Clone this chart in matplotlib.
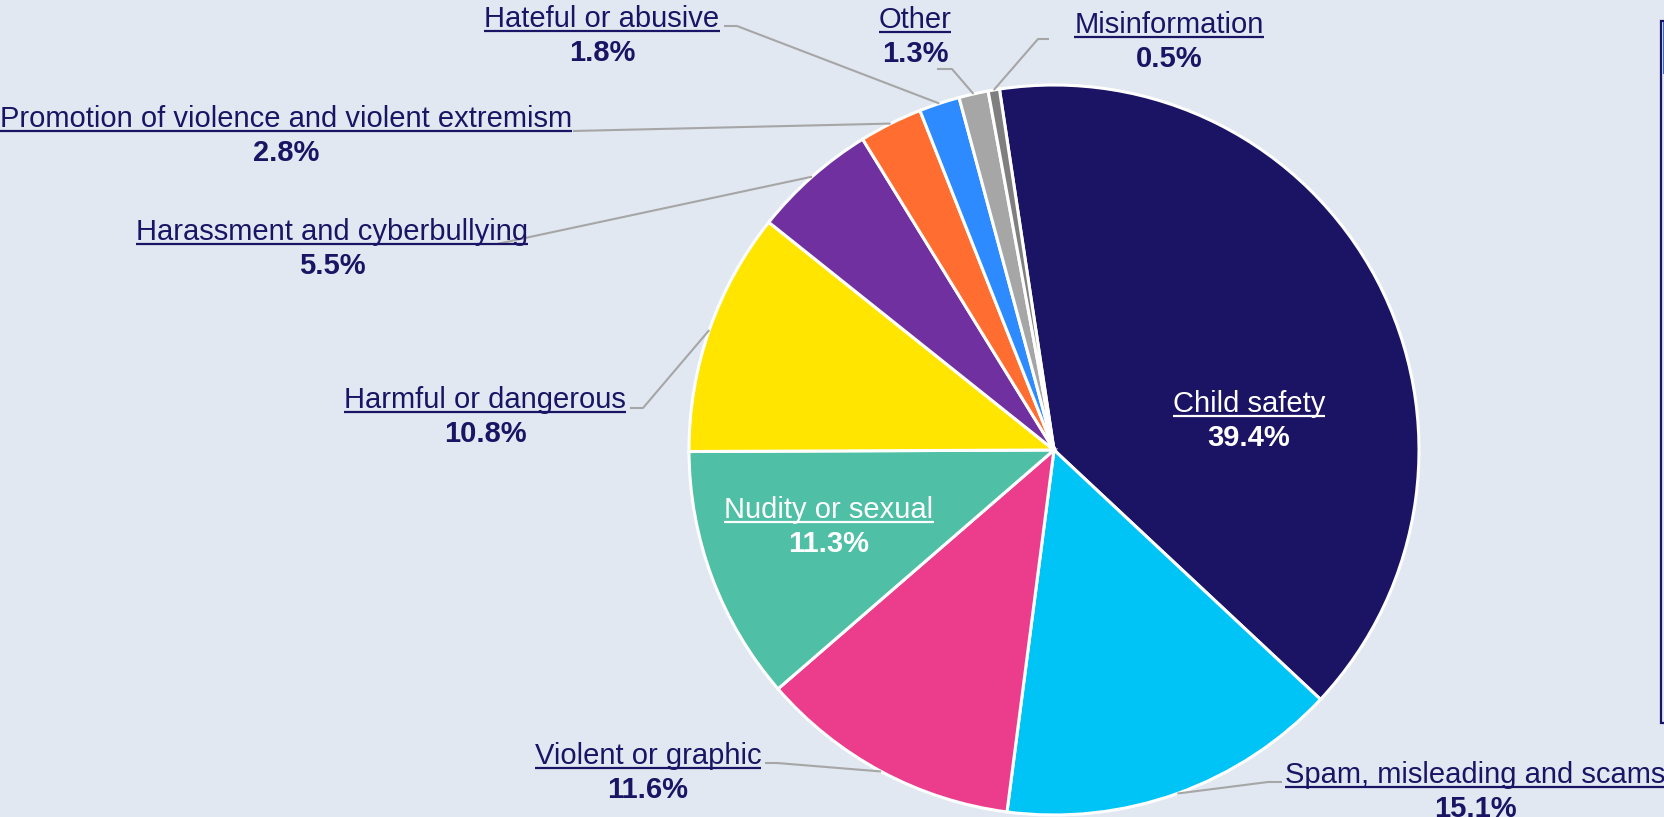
import numpy as np
import matplotlib
matplotlib.use("Agg")
import matplotlib.pyplot as plt
from matplotlib.patches import Rectangle

W, H = 1664, 817

categories = ["Child safety", "Spam, misleading and scams", "Violent or graphic",
              "Nudity or sexual", "Harmful or dangerous", "Harassment and cyberbullying",
              "Promotion of violence and violent extremism", "Hateful or abusive",
              "Other", "Misinformation"]
shares = [39.4, 15.1, 11.6, 11.3, 10.8, 5.5, 2.8, 1.8, 1.3, 0.5]
colors = ["#1B1464", "#00C4F5", "#EC3D8C", "#4FBFA5", "#FFE500",
          "#7030A0", "#FF6E30", "#2D8BFF", "#A6A6A6", "#7F7F7F"]

# label layout in pixels from the top-left corner: centre x, label baseline
label_pos = [(1249, 412), (1475, 783), (648, 764), (829, 518), (485, 408),
             (332, 240), (286, 127), (602, 27), (915, 28), (1169, 33)]
# leader line bends (pixels from top-left), None = label sits inside the slice
leader_pts = [None,
              [(1268, 782), (1282, 782)],
              [(777, 763), (765, 763)],
              None,
              [(643, 408), (630, 408)],
              [(497, 244)],
              [(573, 131)],
              [(737, 26), (724, 26)],
              [(952, 69), (937, 69)],
              [(1038, 39), (1049, 39)]]
inside = [True, False, False, True, False, False, False, False, False, False]

bg = "#E1E8F2"
navy = "#1B1464"
center = (1054, H - 450)
radius = 365
start = 98.6

fig = plt.figure(figsize=(W / 100, H / 100), dpi=100, facecolor=bg)
ax = fig.add_axes([0, 0, 1, 1])
wedges, _ = ax.pie(shares, colors=colors, startangle=start, counterclock=False,
                   center=center, radius=radius,
                   wedgeprops=dict(edgecolor="white", linewidth=2.2))
ax.set_xlim(0, W)
ax.set_ylim(0, H)
ax.set_aspect("equal")
ax.axis("off")

# leader lines from the rim at each slice's middle angle
for w, pts in zip(wedges, leader_pts):
    if pts is None:
        continue
    mid = np.deg2rad((w.theta1 + w.theta2) / 2)
    xs = [center[0] + radius * np.cos(mid)] + [p[0] for p in pts]
    ys = [center[1] + radius * np.sin(mid)] + [H - p[1] for p in pts]
    ax.plot(xs, ys, color="#A6A6A6", lw=1.5, solid_capstyle="butt", zorder=1)

font = "Liberation Sans"
name_texts = []
for cat, val, (cx, by), ins in zip(categories, shares, label_pos, inside):
    c = "white" if ins else navy
    t = ax.text(cx, H - by, cat, ha="center", va="baseline", fontsize=21,
                color=c, family=font, zorder=5)
    ax.text(cx, H - by - 34, f"{val}%", ha="center", va="baseline", fontsize=21,
            color=c, family=font, fontweight="bold", zorder=5)
    name_texts.append((t, by, c))

# underline the category names
fig.canvas.draw()
r = fig.canvas.get_renderer()
for t, by, c in name_texts:
    bb = t.get_window_extent(r)
    ax.plot([bb.x0, bb.x1], [H - by - 4, H - by - 4], color=c, lw=1.6,
            solid_capstyle="butt", zorder=5)

# edge of the legend box that is cut off at the right
ax.add_patch(Rectangle((1661, H - 723), 40, 702, facecolor=bg, edgecolor=navy,
                       lw=1.6, zorder=3, clip_on=True))
ax.add_patch(Rectangle((1662.5, H - 74), 4, 52, facecolor="#2D6BD0",
                       edgecolor="none", zorder=4))

fig.savefig("out.png", dpi=100, facecolor=bg)
